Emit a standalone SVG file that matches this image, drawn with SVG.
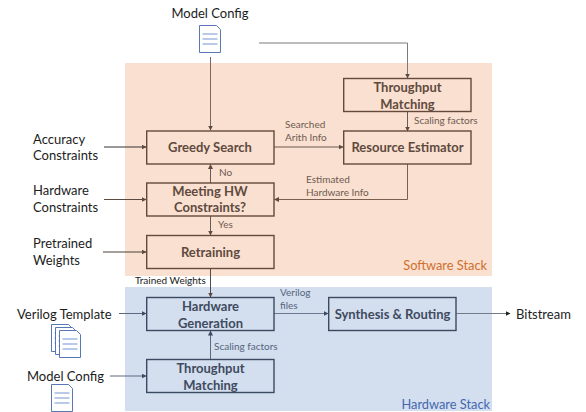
<svg xmlns="http://www.w3.org/2000/svg" width="586" height="412" viewBox="0 0 586 412">
<style>
text{font-family:Lato,"Liberation Sans",sans-serif}
.l{font-size:13px;fill:#1c1c1c}
.b{font-size:13px;font-weight:700;text-anchor:middle}
.s{font-size:10px}
.sw{fill:#6e5a50}.hw{fill:#56657c}
.bs{fill:none;stroke:#65493a;stroke-width:1.4}
.bh{fill:none;stroke:#3b4a60;stroke-width:1.4}
.c{fill:none;stroke-width:1}
.doc{fill:#fff;stroke:#4468ad;stroke-width:.9}
.dl{fill:none;stroke:#4f79c8;stroke-width:.8}
</style>
<defs>
<marker id="a" markerUnits="userSpaceOnUse" markerWidth="5" markerHeight="5" refX="4.5" refY="2.5" orient="auto"><path d="M0 0L5 2.5L0 5Z" fill="#5a4a40"/></marker>
<marker id="k" markerUnits="userSpaceOnUse" markerWidth="5" markerHeight="5" refX="4.5" refY="2.5" orient="auto"><path d="M0 0L5 2.5L0 5Z" fill="#222"/></marker>
<marker id="h" markerUnits="userSpaceOnUse" markerWidth="5" markerHeight="5" refX="4.5" refY="2.5" orient="auto"><path d="M0 0L5 2.5L0 5Z" fill="#3b4a60"/></marker>
<g id="d"><path class="doc" d="M0 0H17L21 4V27H0Z"/><path class="dl" d="M3 8.500H18M3 13.500H18M3 18.500H18"/></g>
</defs>
<g id="panels">
<rect id="software-stack" x="125" y="63" width="367" height="213" fill="#f9e0d0"/>
<rect id="hardware-stack" x="125" y="287" width="367" height="124" fill="#d3deef"/>
<text x="487" y="270" text-anchor="end" font-size="12.800" fill="#cf6f2e">Software Stack</text>
<text x="490" y="409" text-anchor="end" font-size="12.800" fill="#4468ad">Hardware Stack</text>
</g>
<g id="connectors">
<path class="c" stroke="#7a665a" d="M210.500 57V130" marker-end="url(#a)"/>
<path class="c" stroke="#7b7b7b" stroke-width="1.300" d="M259 43H407.500V78" marker-end="url(#a)"/>
<path class="c" stroke="#6b5a50" d="M407.500 111V131" marker-end="url(#a)"/>
<path class="c" stroke="#6b5a50" d="M274 147H343" marker-end="url(#a)"/>
<path class="c" stroke="#7a5f50" d="M407.500 164V199.500H274.500" marker-end="url(#a)"/>
<path class="c" stroke="#6b5a50" d="M210.500 183V164.500" marker-end="url(#a)"/>
<path class="c" stroke="#6b5a50" d="M210.500 216V235" marker-end="url(#a)"/>
<path class="c" stroke="#333" d="M104 147H146" marker-end="url(#a)"/>
<path class="c" stroke="#5a4a40" d="M104 199.500H146" marker-end="url(#a)"/>
<path class="c" stroke="#4d4038" d="M103 252H146" marker-end="url(#a)"/>
<path class="c" stroke="#4d4d4d" d="M210.500 268.500V297" marker-end="url(#a)"/>
<path class="c" stroke="#5c6a7e" d="M119 313.500H146" marker-end="url(#h)"/>
<path class="c" stroke="#5c6a7e" d="M110 376H146" marker-end="url(#h)"/>
<path class="c" stroke="#5c6a7e" d="M210.500 359.500V331" marker-end="url(#h)"/>
<path class="c" stroke="#6c7a8f" d="M274 313.500H328" marker-end="url(#h)"/>
<path class="c" stroke="#707c8c" stroke-width="1.300" d="M456.500 313.500H510" marker-end="url(#k)"/>
</g>
<g id="model-config-top"><text class="l" x="210" y="18" text-anchor="middle">Model Config</text><use href="#d" x="199.500" y="25.500"/></g>
<g id="accuracy-constraints"><text class="l" x="33" y="144">Accuracy</text><text class="l" x="33" y="160">Constraints</text></g>
<g id="hardware-constraints"><text class="l" x="33" y="195">Hardware</text><text class="l" x="33" y="212">Constraints</text></g>
<g id="pretrained-weights"><text class="l" x="33" y="248">Pretrained</text><text class="l" x="33" y="265">Weights</text></g>
<g id="greedy-search"><rect class="bs" x="146.700" y="131" width="127.300" height="33"/><text class="b" style="fill:#5f4a3f" x="210" y="152">Greedy Search</text></g>
<g id="meeting-hw"><rect class="bs" x="146.700" y="183" width="127.300" height="33"/><text class="b" style="fill:#5f4a3f" x="210" y="196">Meeting HW</text><text class="b" style="fill:#5f4a3f" x="210" y="212">Constraints?</text></g>
<g id="retraining"><rect class="bs" x="146.700" y="235.500" width="127.300" height="33"/><text class="b" style="fill:#5f4a3f" x="210.500" y="257">Retraining</text></g>
<g id="throughput-sw"><rect class="bs" x="343.700" y="78.500" width="127.300" height="33"/><text class="b" style="fill:#5f4a3f" x="407.500" y="92">Throughput</text><text class="b" style="fill:#5f4a3f" x="407.500" y="109">Matching</text></g>
<g id="resource-estimator"><rect class="bs" x="343.700" y="131" width="127.300" height="33"/><text class="b" style="fill:#5f4a3f" x="407.500" y="152">Resource Estimator</text></g>
<g id="hardware-generation"><rect class="bh" x="146.700" y="297.500" width="127.300" height="33"/><text class="b" style="fill:#3f4b5e" x="210.500" y="311">Hardware</text><text class="b" style="fill:#3f4b5e" x="210.500" y="328">Generation</text></g>
<g id="throughput-hw"><rect class="bh" x="146.700" y="359.500" width="127.300" height="33"/><text class="b" style="fill:#3f4b5e" x="210.500" y="373">Throughput</text><text class="b" style="fill:#3f4b5e" x="210.500" y="390">Matching</text></g>
<g id="synthesis-routing"><rect class="bh" x="328.700" y="297.500" width="127.300" height="33"/><text class="b" style="fill:#3f4b5e" x="392.500" y="319">Synthesis &amp; Routing</text></g>
<g id="verilog-template"><text class="l" x="17" y="319">Verilog Template</text>
<use href="#d" x="51.500" y="324.500"/><use href="#d" x="55.500" y="327.500"/><use href="#d" x="59.500" y="330.500"/></g>
<g id="model-config-bottom"><text class="l" x="27" y="381">Model Config</text><use href="#d" x="51.500" y="384.500"/></g>
<g id="bitstream"><text class="l" x="516" y="319">Bitstream</text></g>
<g id="labels">
<text class="s sw" x="285" y="128">Searched</text><text class="s sw" x="285" y="141">Arith Info</text>
<text class="s sw" x="414" y="124">Scaling factors</text>
<text class="s sw" x="306" y="183">Estimated</text><text class="s sw" x="306" y="196">Hardware Info</text>
<text class="s sw" x="219" y="176">No</text><text class="s sw" x="218" y="228">Yes</text>
<text class="s" fill="#222" x="135" y="284">Trained Weights</text>
<text class="s hw" x="280" y="296">Verilog</text><text class="s hw" x="280" y="309">files</text>
<text class="s hw" x="214" y="350">Scaling factors</text>
</g>
</svg>
